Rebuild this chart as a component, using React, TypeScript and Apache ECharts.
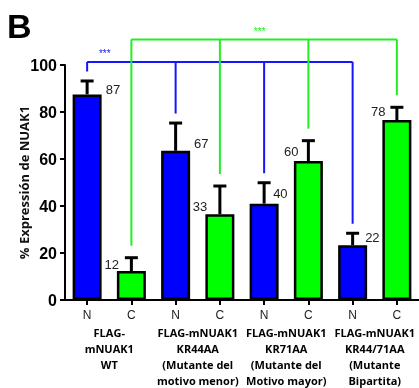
import React, { useEffect, useRef } from "react";
import * as echarts from "echarts";

// ---- data ----
const groups = [
  "FLAG-\nmNUAK1\nWT",
  "FLAG-mNUAK1\nKR44AA\n(Mutante del\nmotivo menor)",
  "FLAG-mNUAK1\nKR71AA\n(Mutante del\nMotivo mayor)",
  "FLAG-mNUAK1\nKR44/71AA\n(Mutante\nBipartita)",
];
const fractionLabels = ["N", "C"];
const nuclearMean = [87.5, 63.5, 41, 23.3];
const nuclearErr = [5.7, 11.8, 8.9, 5.1];
const cytoMean = [12.3, 36.5, 59.1, 76.6];
const cytoErr = [5.7, 12, 8.7, 5.4];
const nuclearLabels = ["87", "67", "40", "22"];
const cytoLabels = ["12", "33", "60", "78"];
const yTicks = [0, 20, 40, 60, 80, 100];

// significance brackets: which bars (category index), level (y value)
const brackets = [
  { members: [0, 2, 4, 6], level: 101.3, stars: "***", starAt: 0.4, color: "#1515ff", gap: 9.5 },
  { members: [1, 3, 5, 7], level: 110.9, stars: "***", starAt: 3.9, color: "#22ee22", gap: 12 },
];

// label placement (style)
const nLabelDx = [18.7, 18.4, 9, 12.5];
const nLabelDy = [5, 7, 10, 8];
const cLabelDx = [-12.5, -12.7, -10, -11.3];
const cLabelDy = [7, 8, 10, 8];

const BLUE = "#0000ff";
const GREEN = "#00ff00";

export default function App() {
  const ref = useRef<HTMLDivElement>(null);
  useEffect(() => {
    if (!ref.current) return;
    const chart = echarts.init(ref.current, null, { renderer: "svg" });

    const cats: string[] = [];
    const barData: any[] = [];
    const errData: any[] = [];
    groups.forEach((_, g) => {
      cats.push(fractionLabels[0], fractionLabels[1]);
      const ni = g * 2, ci = g * 2 + 1;
      barData.push({ value: nuclearMean[g], itemStyle: { color: BLUE } });
      barData.push({ value: cytoMean[g], itemStyle: { color: GREEN } });
      errData.push([ni, nuclearMean[g], nuclearMean[g] + nuclearErr[g], g, 0]);
      errData.push([ci, cytoMean[g], cytoMean[g] + cytoErr[g], g, 1]);
    });
    const errTop = (i: number) => {
      const g = Math.floor(i / 2);
      return i % 2 === 0 ? nuclearMean[g] + nuclearErr[g] : cytoMean[g] + cytoErr[g];
    };

    const textFont = "Liberation Sans, Arial, sans-serif";

    chart.setOption({
      animation: false,
      title: {
        text: "B",
        left: 7,
        top: 9,
        padding: 0,
        textStyle: { fontSize: 34, fontWeight: "bold", color: "#000", fontFamily: textFont },
      },
      grid: { left: 65, right: 0, top: 65, bottom: 88, containLabel: false, outerBoundsMode: "none" },
      xAxis: [
        {
          type: "category",
          data: cats,
          position: "bottom",
          axisLine: { show: true, lineStyle: { color: "#000", width: 2 } },
          axisTick: { show: true, alignWithLabel: true, length: 5, lineStyle: { color: "#000", width: 2 } },
          axisLabel: { color: "#222", fontSize: 12, fontFamily: textFont, margin: 9 },
        },
        {
          type: "category",
          data: groups,
          position: "bottom",
          axisLine: { show: false },
          axisTick: { show: false },
          axisLabel: {
            color: "#000",
            fontSize: 11,
            fontWeight: "bold",
            fontFamily: "Open Sans, sans-serif",
            lineHeight: 16,
            margin: 24,
            interval: 0,
          },
        },
      ],
      yAxis: {
        type: "value",
        min: 0,
        max: 100,
        interval: 20,
        name: "% Expressión de NUAK1",
        nameLocation: "middle",
        nameGap: 35,
        nameMoveOverlap: false,
        nameTextStyle: { fontSize: 13, fontWeight: "bold", fontFamily: "Open Sans, sans-serif", color: "#111" },
        axisLine: { show: true, lineStyle: { color: "#000", width: 2 } },
        axisTick: { show: true, length: 5, lineStyle: { color: "#000", width: 2 } },
        axisLabel: {
          color: "#000",
          fontSize: 16,
          fontWeight: "bold",
          fontFamily: textFont,
          margin: 8,
          formatter: (v: number) => (yTicks.includes(v) ? String(v) : ""),
        },
        splitLine: { show: false },
      },
      series: [
        {
          type: "bar",
          data: barData,
          barWidth: 29,
          xAxisIndex: 0,
          itemStyle: { borderColor: "#000", borderWidth: 2.5 },
          z: 2,
        },
        {
          type: "custom",
          xAxisIndex: 0,
          data: errData,
          z: 3,
          renderItem: (params: any, api: any) => {
            const x = api.value(0);
            const v = api.value(1);
            const e = api.value(2);
            const g = api.value(3);
            const side = api.value(4);
            const p0 = api.coord([x, v]);
            const p1 = api.coord([x, e]);
            const dx = side === 0 ? nLabelDx[g] : cLabelDx[g];
            const dy = side === 0 ? nLabelDy[g] : cLabelDy[g];
            const txt = side === 0 ? nuclearLabels[g] : cytoLabels[g];
            const align = side === 0 ? "left" : "right";
            return {
              type: "group",
              children: [
                { type: "line", shape: { x1: p0[0], y1: p0[1], x2: p1[0], y2: p1[1] }, style: { stroke: "#000", lineWidth: 3 } },
                { type: "line", shape: { x1: p1[0] - 6.5, y1: p1[1], x2: p1[0] + 6.5, y2: p1[1] }, style: { stroke: "#000", lineWidth: 3 } },
                {
                  type: "text",
                  x: p0[0] + dx,
                  y: p0[1] - dy,
                  style: {
                    text: txt,
                    fill: "#222",
                    fontSize: 13,
                    fontFamily: textFont,
                    align,
                    textAlign: align,
                    verticalAlign: "middle",
                    textVerticalAlign: "middle",
                  },
                },
              ],
            };
          },
        },
        {
          type: "custom",
          xAxisIndex: 0,
          data: brackets.map((_, i) => [i]),
          z: 4,
          clip: false,
          renderItem: (params: any, api: any) => {
            const b = brackets[api.value(0)];
            const first = b.members[0];
            const last = b.members[b.members.length - 1];
            const pa = api.coord([first, b.level]);
            const pb = api.coord([last, b.level]);
            const children: any[] = [
              { type: "line", shape: { x1: pa[0], y1: pa[1], x2: pb[0], y2: pb[1] }, style: { stroke: b.color, lineWidth: 2 } },
            ];
            b.members.forEach((m) => {
              const pt = api.coord([m, b.level]);
              const pe = api.coord([m, errTop(m)]);
              children.push({
                type: "line",
                shape: { x1: pt[0], y1: pt[1], x2: pt[0], y2: pe[1] - b.gap },
                style: { stroke: b.color, lineWidth: 2 },
              });
            });
            const p0 = api.coord([0, b.level]);
            const p1 = api.coord([1, b.level]);
            const sx = p0[0] + (p1[0] - p0[0]) * b.starAt;
            children.push({
              type: "text",
              x: sx,
              y: pa[1] - 3,
              style: {
                text: b.stars,
                fill: b.color,
                fontSize: 10,
                fontFamily: textFont,
                align: "center",
                textAlign: "center",
                verticalAlign: "bottom",
                textVerticalAlign: "bottom",
              },
            });
            return { type: "group", children };
          },
        },
      ],
    });
    return () => chart.dispose();
  }, []);
  return <div ref={ref} style={{ position: "fixed", left: 0, top: 0, width: 419, height: 388 }} />;
}
